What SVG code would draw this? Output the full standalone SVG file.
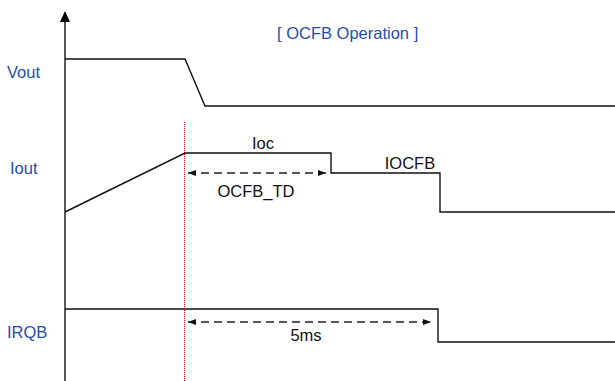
<svg xmlns="http://www.w3.org/2000/svg" width="615" height="381" viewBox="0 0 615 381">
<style>
.lbl{font-family:"Liberation Sans",Arial,sans-serif;font-size:16.5px;fill:#1F4EAF}
.txt{font-family:"Liberation Sans",Arial,sans-serif;font-size:16.5px;fill:#111}
.sig{fill:none;stroke:#111;stroke-width:1.4}
.dash{fill:none;stroke:#222;stroke-width:1.4;stroke-dasharray:8,5}
</style>
<defs>
<marker id="ah" viewBox="0 0 8 6" refX="8" refY="3" markerWidth="8" markerHeight="6" markerUnits="userSpaceOnUse" orient="auto-start-reverse">
<path d="M0,0 L8,3 L0,6 Z" fill="#111"/>
</marker>
</defs>
<rect width="615" height="381" fill="#fff"/>
<g id="axis">
<line x1="65" y1="20" x2="65" y2="381" stroke="#111" stroke-width="1.4"/>
<path d="M65,11 L70,22 L60,22 Z" fill="#000"/>
</g>
<g id="title"><text class="lbl" x="277" y="39">[ OCFB Operation ]</text></g>
<g id="vout">
<text class="lbl" x="7" y="78">Vout</text>
<polyline class="sig" points="65,59 185,59 205,106 615,106"/>
</g>
<g id="iout">
<text class="lbl" x="10" y="174">Iout</text>
<polyline class="sig" points="65,212 185,153 331,153 331,173 440,173 440,212 615,212"/>
<text class="txt" x="263" y="149" text-anchor="middle">Ioc</text>
<text class="txt" x="410" y="169" text-anchor="middle">IOCFB</text>
</g>
<g id="irqb">
<text class="lbl" x="7" y="338">IRQB</text>
<polyline class="sig" points="65,309 438,309 438,342 615,342"/>
</g>
<g id="marker-line">
<line x1="184.5" y1="122" x2="184.5" y2="381" stroke="#C00000" stroke-width="1" stroke-dasharray="1,1"/>
</g>
<g id="connectors">
<line class="dash" x1="188" y1="173" x2="326" y2="173" marker-start="url(#ah)" marker-end="url(#ah)"/>
<text class="txt" x="256" y="197" text-anchor="middle">OCFB_TD</text>
<line class="dash" x1="188" y1="322" x2="431" y2="322" marker-start="url(#ah)" marker-end="url(#ah)"/>
<text class="txt" x="306" y="341" text-anchor="middle">5ms</text>
</g>
</svg>
